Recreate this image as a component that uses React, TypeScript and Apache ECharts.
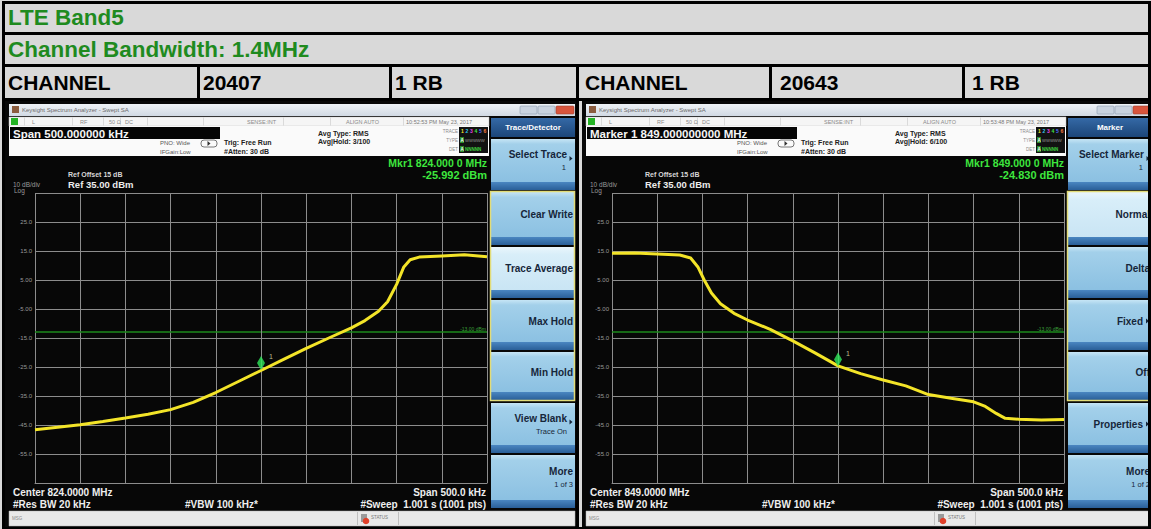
import React, { useEffect, useRef } from "react";
import * as echarts from "echarts";

const W = 1151;
const H = 529;
const FONT = '"Liberation Sans", Arial, Helvetica, sans-serif';

// ---- table texts ----
const titleRow = "LTE Band5";
const bandwidthRow = "Channel Bandwidth: 1.4MHz";
const channelCellsLeft = ["CHANNEL", "20407", "1 RB"];
const channelCellsRight = ["CHANNEL", "20643", "1 RB"];

// ---- analyzer scale ----
const refLevelDbm = 35;
const dbPerDiv = 10;
const divisions = 10;
const bottomDbm = refLevelDbm - dbPerDiv * divisions; // -65
const yTickLabels = ["25.0", "15.0", "5.00", "-5.00", "-15.0", "-25.0", "-35.0", "-45.0", "-55.0"];
const spanKHz = 500;
const displayLineDbm = -13;

// ---- traces (offset from center, kHz / dBm) ----
const leftFreqKHz = [-250, -225, -200, -175, -150, -125, -100, -75, -50, -25, 0, 25, 50, 75, 100, 115, 130, 140, 150, 158, 165, 175, 200, 225, 250];
const leftPowerDbm = [-46.6, -45.8, -44.9, -43.8, -42.6, -41.3, -39.7, -37.2, -33.8, -30.0, -26.2, -22.4, -18.6, -15.0, -11.5, -9.0, -5.8, -2.5, 3.5, 9.5, 12.0, 12.9, 13.3, 13.7, 13.0];
const rightFreqKHz = [-250, -225, -200, -175, -163, -155, -148, -140, -130, -115, -100, -75, -50, -25, 0, 25, 50, 75, 100, 125, 150, 163, 175, 185, 200, 225, 250];
const rightPowerDbm = [14.2, 14.3, 14.0, 13.6, 12.6, 9.5, 5.0, 0.5, -3.2, -6.5, -8.8, -12.0, -16.0, -20.2, -24.6, -27.3, -29.5, -31.5, -34.5, -35.8, -37.0, -38.6, -41.0, -42.7, -43.0, -43.3, -43.1];
const markerFreqKHz = [0, 0];
const markerPowerDbm = [-25.992, -24.83];

type Btn = { t: string; sub?: string; arrow?: boolean; sel?: boolean };

const leftButtons: Btn[] = [
  { t: "Select Trace", sub: "1", arrow: true },
  { t: "Clear Write" },
  { t: "Trace Average", sel: true },
  { t: "Max Hold" },
  { t: "Min Hold" },
  { t: "View Blank", sub: "Trace On", arrow: true },
  { t: "More", sub: "1 of 3" },
];
const rightButtons: Btn[] = [
  { t: "Select Marker", sub: "1", arrow: true },
  { t: "Normal", sel: true },
  { t: "Delta" },
  { t: "Fixed", arrow: true },
  { t: "Off" },
  { t: "Properties", arrow: true },
  { t: "More", sub: "1 of 2" },
];

const screens = [
  {
    ox: 0,
    topBox: "Span 500.000000 kHz",
    time: "10:52:53 PM May 23, 2017",
    avgHold: "Avg|Hold: 3/100",
    mkr: "Mkr1 824.000 0 MHz",
    mkrVal: "-25.992 dBm",
    center: "Center 824.0000 MHz",
    header: "Trace/Detector",
    buttons: leftButtons,
    freq: leftFreqKHz,
    power: leftPowerDbm,
  },
  {
    ox: 577,
    topBox: "Marker 1 849.000000000 MHz",
    time: "10:53:48 PM May 23, 2017",
    avgHold: "Avg|Hold: 6/100",
    mkr: "Mkr1 849.000 0 MHz",
    mkrVal: "-24.830 dBm",
    center: "Center 849.0000 MHz",
    header: "Marker",
    buttons: rightButtons,
    freq: rightFreqKHz,
    power: rightPowerDbm,
  },
];

function grad(stops: [number, string][]) {
  return new echarts.graphic.LinearGradient(
    0, 0, 0, 1,
    stops.map(([offset, color]) => ({ offset, color }))
  );
}

function rect(x: number, y: number, w: number, h: number, fill: any, z = 1, stroke?: string, lineWidth = 1, r = 0) {
  const style: any = { fill };
  if (stroke) {
    style.stroke = stroke;
    style.lineWidth = lineWidth;
  }
  return { type: "rect", z, silent: true, shape: { x, y, width: w, height: h, r }, style };
}

function txt(x: number, y: number, text: string, size: number, fill: string, weight = "normal", align = "left", z = 4) {
  return {
    type: "text",
    z,
    silent: true,
    x,
    y,
    style: {
      text,
      fill,
      font: `${weight} ${size}px ${FONT}`,
      textAlign: align,
      textVerticalAlign: "middle",
      align,
      verticalAlign: "middle",
    },
  };
}

function tri(x: number, y: number, fill: string, z = 4) {
  return {
    type: "polygon",
    z,
    silent: true,
    shape: { points: [[x, y - 2.5], [x + 3, y], [x, y + 2.5]] },
    style: { fill },
  };
}

const BTN_Y = [[139, 190], [192, 245], [247, 298], [300, 350], [352, 400], [403, 453], [455, 508]];

function buildScreen(s: (typeof screens)[number]) {
  const X = (x: number) => x + s.ox;
  const els: any[] = [];
  // frame
  els.push(rect(X(5), 101, 571, 426, "#070707", 1));
  // title bar
  els.push(rect(X(9), 104, 566, 12, grad([[0, "#eef2f6"], [1, "#d1d9e3"]]), 2));
  els.push(rect(X(12), 106, 7, 7, "#8a5c3e", 3));
  els.push(txt(X(22), 110, "Keysight Spectrum Analyzer - Swept SA", 6, "#6a6a6a"));
  els.push(rect(X(520), 106, 17, 8, "#c9d3df", 3, "#8c9bb0", 0.6, 1));
  els.push(rect(X(538), 106, 17, 8, "#c9d3df", 3, "#8c9bb0", 0.6, 1));
  els.push(rect(X(556), 106, 18, 8, "#d8553d", 3, "#a0402f", 0.6, 1));
  // status row
  els.push(rect(X(9), 117, 480, 9, "#f5f5f5", 2, "#c4c4c4", 0.5));
  els.push(rect(X(11), 118, 7, 7, "#25b325", 3));
  [24, 72, 103, 120, 147, 203, 283, 330, 403].forEach((sx) => els.push(rect(X(sx), 117.5, 0.6, 8, "#c8c8c8", 3)));
  els.push(txt(X(32), 121.5, "L", 5.5, "#8a8a8a"));
  els.push(txt(X(80), 121.5, "RF", 5.5, "#8a8a8a"));
  els.push(txt(X(109), 121.5, "50 Ω", 5.5, "#8a8a8a"));
  els.push(txt(X(125), 121.5, "DC", 5.5, "#8a8a8a"));
  els.push(txt(X(247), 121.5, "SENSE:INT", 5.5, "#8a8a8a"));
  els.push(txt(X(346), 121.5, "ALIGN AUTO", 5.5, "#8a8a8a"));
  els.push(txt(X(406), 121.5, s.time, 5.5, "#7a7a7a"));
  // info area
  els.push(rect(X(9), 126, 480, 30, "#fafafa", 2));
  els.push(rect(X(10), 127, 210, 12, "#050505", 3));
  els.push(txt(X(13), 133.5, s.topBox, 11.5, "#f4f4f4", "bold"));
  els.push(txt(X(160), 143, "PNO: Wide", 6, "#555"));
  els.push(txt(X(160), 151.5, "IFGain:Low", 6, "#555"));
  els.push(rect(X(201), 140, 16, 7, "#fafafa", 3, "#555", 0.8, 3));
  els.push(tri(X(207.5), 143.5, "#333", 4));
  els.push(txt(X(224), 142.5, "Trig: Free Run", 7, "#222", "bold"));
  els.push(txt(X(224), 151.5, "#Atten: 30 dB", 7, "#222", "bold"));
  els.push(txt(X(318), 133, "Avg Type: RMS", 7, "#222", "bold"));
  els.push(txt(X(318), 141.5, s.avgHold, 7, "#222", "bold"));
  els.push(txt(X(458), 131, "TRACE", 4.5, "#8a8a8a", "normal", "right"));
  els.push(txt(X(458), 140, "TYPE", 4.5, "#8a8a8a", "normal", "right"));
  els.push(txt(X(458), 149, "DET", 4.5, "#8a8a8a", "normal", "right"));
  els.push(rect(X(459), 127, 29, 26, "#121212", 3));
  const tc = ["#f6e72a", "#36c8f0", "#e448e4", "#45e045", "#5570ff", "#ff7a40"];
  tc.forEach((c, i) => els.push(txt(X(461 + i * 4.5), 131, String(i + 1), 5, c, "bold")));
  els.push(rect(X(460), 137, 4, 6, "#2a8a2a", 4));
  els.push(txt(X(460.5), 140, "A", 4.5, "#fff", "bold", "left", 5));
  els.push(txt(X(465), 140, "WWWWW", 4.2, "#9a9a9a"));
  els.push(rect(X(460), 146, 4, 6, "#2a8a2a", 4));
  els.push(txt(X(460.5), 149, "A", 4.5, "#fff", "bold", "left", 5));
  els.push(txt(X(465), 149, "NNNNN", 4.5, "#3ed03e", "bold"));
  // ref texts
  els.push(txt(X(68), 174, "Ref Offset 15 dB", 7, "#d6d6d6", "bold"));
  els.push(txt(X(13), 184, `${dbPerDiv} dB/div`, 6.5, "#9a9a9a"));
  els.push(txt(X(68), 184, `Ref ${refLevelDbm.toFixed(2)} dBm`, 9.5, "#ececec", "bold"));
  els.push(txt(X(14), 190.5, "Log", 6.5, "#9a9a9a"));
  els.push(txt(X(487), 163, s.mkr, 10.5, "#3ee83e", "bold", "right"));
  els.push(txt(X(487), 175, s.mkrVal, 11, "#3ee83e", "bold", "right"));
  // bottom texts
  els.push(txt(X(13), 492, s.center, 10, "#eeeeee", "bold"));
  els.push(txt(X(13), 504, "#Res BW 20 kHz", 10, "#eeeeee", "bold"));
  els.push(txt(X(185), 504, "#VBW 100 kHz*", 10, "#eeeeee", "bold"));
  els.push(txt(X(486), 492, "Span 500.0 kHz", 10, "#eeeeee", "bold", "right"));
  els.push(txt(X(486), 504, "#Sweep  1.001 s (1001 pts)", 10, "#eeeeee", "bold", "right"));
  // MSG bar
  els.push(rect(X(9), 511, 566, 15, "#e9e9e9", 2, "#b0b0b0", 0.5));
  els.push(txt(X(12), 518, "MSG", 4.5, "#8a8a8a"));
  els.push(rect(X(357), 512, 0.8, 13, "#b5b5b5", 3));
  els.push(rect(X(398), 512, 0.8, 13, "#b5b5b5", 3));
  els.push(rect(X(361), 514, 6, 8, "#9a9a9a", 3));
  els.push({ type: "circle", z: 4, silent: true, shape: { cx: X(366), cy: 521, r: 3.3 }, style: { fill: "#e0402a" } });
  els.push(txt(X(371), 517.5, "STATUS", 4.5, "#777"));
  // panel header
  els.push(rect(X(491), 118, 84, 19, grad([[0, "#3569a6"], [1, "#1c4679"]]), 2));
  els.push(txt(X(533), 127.5, s.header, 8, "#ffffff", "bold", "center"));
  // buttons
  s.buttons.forEach((b, i) => {
    const [y0, y1] = BTN_Y[i];
    const h = y1 - y0;
    const face = b.sel
      ? grad([[0, "#eaf6fc"], [0.15, "#d8eef9"], [1, "#c6e3f3"]])
      : grad([[0, "#c6e5f5"], [0.1, "#a3d0ea"], [1, "#86bde0"]]);
    els.push(rect(X(491), y0, 84, h, face, 2));
    els.push(rect(X(491), y1 - 8, 84, 8, grad([[0, "#4a86c1"], [1, "#2a5f98"]]), 3));
    const fc = y0 + (h - 8) / 2;
    const rx = b.arrow && b.sub !== undefined ? 567 : b.arrow ? 566 : 573;
    if (b.sub !== undefined) {
      els.push(txt(X(rx), fc - 6, b.t, 10, "#16263a", "bold", "right"));
      els.push(txt(X(b.arrow && b.sub === "1" ? 566 : rx), fc + 7, b.sub, 7.5, "#16263a", "normal", "right"));
      if (b.arrow) els.push(tri(X(569.5), fc - 2, "#16263a"));
    } else {
      els.push(txt(X(rx), fc, b.t, 10, "#16263a", "bold", "right"));
      if (b.arrow) els.push(tri(X(569), fc, "#16263a"));
    }
  });
  // yellow group outline
  els.push(rect(X(490.5), 191.5, 84, 209, "none", 5, "#e2dc78", 1.5));
  return els;
}

function buildTable() {
  const els: any[] = [];
  els.push(rect(0, 0, W, H, "#d9d9d9", 0));
  const B = "#000000";
  // horizontal borders
  els.push(rect(2, 1, W - 2, 3, B, 9));
  els.push(rect(2, 32, W - 2, 3, B, 9));
  els.push(rect(2, 64, W - 2, 3, B, 9));
  els.push(rect(2, 98, W - 2, 3, B, 9));
  els.push(rect(2, 527, W - 2, 2, B, 9));
  // vertical borders
  els.push(rect(2, 1, 3, 528, B, 9));
  els.push(rect(1148, 1, 3, 528, B, 9));
  els.push(rect(197, 67, 3, 31, B, 9));
  els.push(rect(389, 67, 3, 31, B, 9));
  els.push(rect(576, 67, 3, 462, B, 9));
  els.push(rect(769, 67, 3, 31, B, 9));
  els.push(rect(962, 67, 3, 31, B, 9));
  const green = "#1f8b1f";
  els.push(txt(8, 17, titleRow, 22.5, green, "bold"));
  els.push(txt(8, 49, bandwidthRow, 22.5, green, "bold"));
  const cx = [8, 203, 395];
  channelCellsLeft.forEach((t, i) => els.push(txt(cx[i], 82, t, 21, "#000", "bold")));
  channelCellsRight.forEach((t, i) => els.push(txt(cx[i] + 577, 82, t, 21, "#000", "bold")));
  return els;
}

function buildOption() {
  const toAxis = (dbm: number) => dbm - bottomDbm;
  const gridColor = "#8c8c8c";
  const grid = screens.map((s) => ({ left: 35 + s.ox, top: 193, width: 452, height: 290, containLabel: false }));
  const xAxis = screens.map((_, i) => ({
    type: "value",
    gridIndex: i,
    min: -spanKHz / 2,
    max: spanKHz / 2,
    interval: spanKHz / divisions,
    z: 5,
    axisLabel: { show: false },
    axisTick: { show: false },
    axisLine: { show: true, lineStyle: { color: gridColor, width: 1 } },
    splitLine: { show: true, lineStyle: { color: gridColor, width: 1 } },
  }));
  const yAxis = screens.map((_, i) => ({
    type: "value",
    gridIndex: i,
    min: 0,
    max: dbPerDiv * divisions,
    interval: dbPerDiv,
    z: 5,
    axisTick: { show: false },
    axisLine: { show: true, lineStyle: { color: gridColor, width: 1 } },
    splitLine: { show: true, lineStyle: { color: gridColor, width: 1 } },
    axisLabel: {
      show: true,
      margin: 3,
      fontSize: 6,
      fontFamily: FONT,
      color: "#9a9a9a",
      padding: [4, 0, 0, 0],
      formatter: (v: number) => {
        const idx = Math.round((refLevelDbm - (v + bottomDbm)) / dbPerDiv);
        return idx >= 1 && idx <= yTickLabels.length ? yTickLabels[idx - 1] : "";
      },
    },
  }));
  const series: any[] = [];
  screens.forEach((s, i) => {
    series.push({
      type: "line",
      xAxisIndex: i,
      yAxisIndex: i,
      z: 6,
      symbol: "none",
      silent: true,
      lineStyle: { color: "#f3e428", width: 3 },
      data: s.freq.map((f, k) => [f, toAxis(s.power[k])]),
      markLine: {
        silent: true,
        symbol: ["none", "none"],
        lineStyle: { color: "#1d8a1d", width: 1.6, type: "solid" },
        label: {
          show: true,
          position: "insideEndTop",
          formatter: `${displayLineDbm.toFixed(2)} dBm`,
          fontSize: 5,
          color: "#3aa03a",
          distance: 1,
        },
        data: [{ yAxis: toAxis(displayLineDbm) }],
      },
    });
    series.push({
      type: "scatter",
      xAxisIndex: i,
      yAxisIndex: i,
      z: 7,
      silent: true,
      symbol: "diamond",
      symbolSize: [8, 14],
      symbolOffset: [0, -7],
      itemStyle: { color: "#2ee85a" },
      label: {
        show: true,
        formatter: "1",
        position: "right",
        offset: [-1, -6],
        fontSize: 7,
        fontFamily: FONT,
        color: "#e6e4b0",
      },
      data: [[markerFreqKHz[i], toAxis(markerPowerDbm[i])]],
    });
  });
  const graphicEls = [...buildTable(), ...buildScreen(screens[0]), ...buildScreen(screens[1])];
  return {
    animation: false,
    backgroundColor: "#ffffff",
    textStyle: { fontFamily: FONT },
    grid,
    xAxis,
    yAxis,
    series,
    graphic: { elements: graphicEls },
  };
}

export default function App() {
  const ref = useRef<HTMLDivElement>(null);
  useEffect(() => {
    if (!ref.current) return;
    const chart = echarts.init(ref.current, undefined, { renderer: "svg", width: W, height: H });
    chart.setOption(buildOption() as any);
    return () => chart.dispose();
  }, []);
  return <div ref={ref} style={{ position: "absolute", left: 0, top: 0, width: W, height: H }} />;
}
